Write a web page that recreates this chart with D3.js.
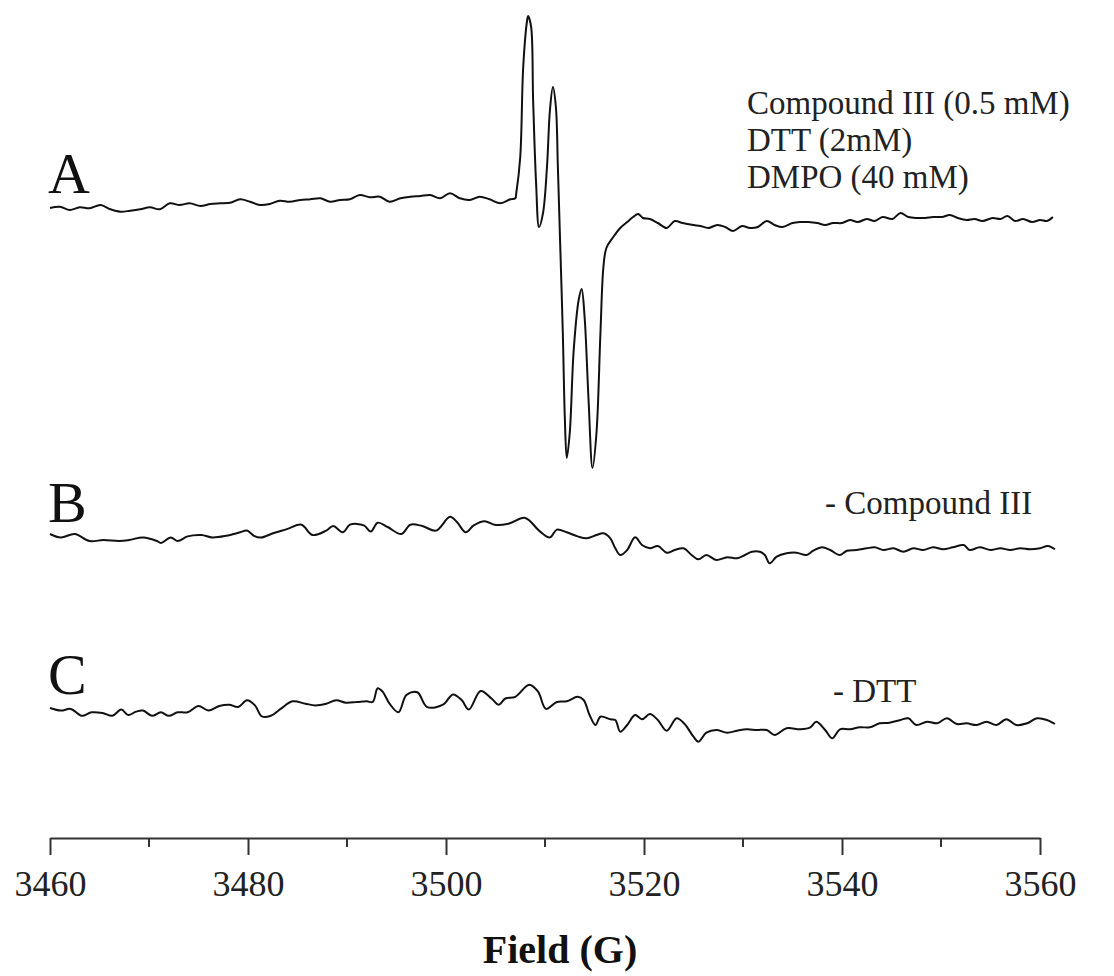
<!DOCTYPE html>
<html lang="en">
<head>
  <meta charset="UTF-8">
  <title>EPR spectra</title>
  <script src="https://d3js.org/d3.v7.min.js"></script>
  <style>
    body { margin: 0; background: #fff; }
    svg { display: block; font-family: "Liberation Serif", "DejaVu Serif", serif; }
  </style>
</head>
<body>
<svg id="chart" width="1114" height="976"></svg>

<script>
  // ---- data (field in G, intensity in arbitrary units) ----
  var fieldA = [3460.0, 3461.0, 3462.0, 3463.0, 3464.0, 3465.1, 3466.1, 3467.1, 3468.1, 3469.1,
    3470.1, 3471.1, 3472.1, 3473.1, 3474.1, 3475.2, 3476.2, 3477.2, 3478.2, 3479.2,
    3480.2, 3481.2, 3482.2, 3483.2, 3484.2, 3485.3, 3486.3, 3487.3, 3488.3, 3489.3,
    3490.3, 3491.3, 3492.3, 3493.3, 3494.3, 3495.4, 3496.4, 3497.4, 3498.4, 3499.4,
    3500.4, 3501.4, 3502.4, 3503.4, 3504.4, 3505.5, 3506.5, 3507.0, 3507.1, 3507.5,
    3507.8, 3508.2, 3508.3, 3508.6, 3508.8, 3509.1, 3509.4, 3509.8, 3510.2, 3510.5,
    3510.8, 3511.1, 3511.3, 3511.5, 3511.8, 3512.0, 3512.2, 3512.5, 3512.9, 3513.4,
    3513.7, 3514.0, 3514.4, 3514.8, 3515.2, 3515.6, 3515.9, 3516.2, 3516.9, 3517.6,
    3518.3, 3518.9, 3519.4, 3519.9, 3520.6, 3521.4, 3522.3, 3523.1, 3523.9, 3525.0,
    3525.7, 3526.5, 3527.4, 3528.2, 3529.0, 3529.9, 3530.7, 3531.5, 3532.4, 3533.2,
    3534.0, 3535.0, 3535.8, 3536.6, 3537.5, 3538.3, 3539.1, 3540.0, 3540.8, 3541.6,
    3542.5, 3543.3, 3544.1, 3545.1, 3545.9, 3546.7, 3547.6, 3548.4, 3549.2, 3550.1,
    3550.9, 3551.7, 3552.6, 3553.4, 3554.2, 3555.2, 3556.0, 3556.7, 3557.5, 3558.3,
    3559.2, 3560.0, 3560.7, 3561.3];
  var intensityA = [0, 1.3, -2, 0.7, -0.3, 3, -1.3, -3.7, -2.7, -1.3,
    0.7, -1.3, 4.7, 3, 4.7, 2, 4, 4.7, 5.3, 8.7,
    6.3, 3, 4, 7.3, 6.3, 8, 8.7, 9.7, 6.3, 8,
    8.7, 13, 10.7, 11.3, 6.3, 9.7, 11.3, 12, 13, 9.7,
    14.7, 9.7, 8, 11.3, 8.7, 4.7, 8.7, 9.7, 15, 51,
    141, 188, 192, 181, 108, 25, -19, -5, 41, 98,
    121, 101, 41, -25, -125, -209, -250, -225, -142, -92,
    -81, -109, -192, -260, -225, -125, -59, -40, -29, -20,
    -14, -9, -6, -10, -11, -15, -20, -13, -15, -17,
    -18, -20, -17, -19, -23, -18, -20, -19, -13, -17,
    -19, -15, -14, -14, -15, -17, -15, -15, -12, -14,
    -11, -13, -9, -11, -5, -9, -10, -10, -9, -9,
    -7, -10, -12, -11, -13, -10, -11, -8, -13, -11,
    -14, -12, -13, -9];

  var fieldB = [3460.0, 3461.1, 3462.5, 3464.0, 3465.4, 3467.0, 3468.0, 3469.4, 3470.8, 3471.2,
    3472.2, 3472.9, 3473.9, 3475.3, 3476.4, 3477.8, 3479.2, 3479.9, 3480.6, 3481.3,
    3482.6, 3484.0, 3485.4, 3486.5, 3487.9, 3488.6, 3489.6, 3490.3, 3491.7, 3492.4,
    3493.1, 3494.1, 3495.5, 3496.4, 3497.6, 3499.0, 3500.4, 3501.1, 3502.0, 3502.8,
    3503.9, 3504.9, 3506.3, 3508.0, 3509.4, 3510.5, 3511.2, 3512.2, 3513.3, 3514.2,
    3515.2, 3515.9, 3516.6, 3517.1, 3517.6, 3518.3, 3519.1, 3519.8, 3520.6, 3521.4,
    3522.3, 3523.1, 3524.0, 3524.8, 3525.5, 3526.3, 3527.3, 3528.4, 3529.4, 3530.2,
    3530.9, 3531.7, 3532.2, 3532.7, 3533.4, 3534.4, 3535.4, 3536.4, 3537.1, 3538.0,
    3538.8, 3539.8, 3540.5, 3541.5, 3542.5, 3543.3, 3544.2, 3545.2, 3546.2, 3547.2,
    3548.2, 3549.2, 3550.2, 3551.2, 3552.3, 3552.9, 3553.9, 3555.0, 3556.0, 3557.0,
    3558.0, 3559.0, 3560.0, 3560.8, 3561.5];
  var intensityB = [0, -3.5, 0, -7, -6, -7, -6, -3.5, -7, -9,
    -3.5, -7, -2.4, -1, -3.5, -1.8, 1.7, 3.4, -1.8, -3.5,
    1, 5.1, 9.3, -1, 3.4, 8, 1.7, 9.3, 8.6, 2.4,
    11.3, 7, 0, 9.3, 8, 3.4, 17.2, 12, 1.7, 8.6,
    12.7, 9.3, 10.3, 16.1, 3.4, -3.5, 4.4, 1.7, -2.4, -4.3,
    -1, 0.7, -4.3, -14.3, -21, -16, -3.3, -11, -14.3, -12,
    -18.7, -16, -14.3, -21, -25.3, -21, -26, -23.3, -24.3, -21,
    -17.7, -17.7, -21, -29.3, -22.7, -19.3, -18.7, -21, -16.7, -13.3,
    -16, -21, -16.7, -16, -14.3, -13.3, -16, -14.3, -17.7, -14.3,
    -16, -13.3, -15.3, -13.3, -11, -16, -13.3, -16, -14.3, -16,
    -14.3, -15.3, -14.3, -12, -15.3];

  var fieldC = [3460.0, 3461.1, 3462.1, 3463.2, 3464.2, 3465.3, 3466.3, 3467.2, 3467.9, 3468.7,
    3469.4, 3470.3, 3471.2, 3472.0, 3472.9, 3473.9, 3475.0, 3476.0, 3477.1, 3478.1,
    3479.0, 3479.9, 3480.7, 3481.4, 3482.3, 3483.3, 3484.5, 3485.8, 3486.8, 3487.9,
    3488.9, 3489.9, 3491.0, 3492.0, 3492.6, 3493.1, 3493.6, 3494.3, 3495.2, 3496.0,
    3497.1, 3498.1, 3499.7, 3500.7, 3501.6, 3502.3, 3503.5, 3504.6, 3505.3, 3506.0,
    3507.0, 3508.4, 3509.3, 3510.1, 3511.2, 3512.2, 3513.3, 3513.9, 3514.5, 3515.1,
    3515.6, 3516.6, 3517.1, 3517.6, 3518.3, 3519.1, 3519.8, 3520.6, 3521.4, 3522.3,
    3523.3, 3524.1, 3525.0, 3525.5, 3526.3, 3527.3, 3528.4, 3529.4, 3530.4, 3531.4,
    3532.4, 3533.2, 3534.4, 3535.8, 3536.8, 3537.4, 3538.3, 3539.0, 3539.8, 3540.8,
    3541.8, 3542.8, 3543.8, 3544.8, 3545.9, 3546.7, 3547.5, 3548.6, 3549.6, 3550.6,
    3551.6, 3552.6, 3553.6, 3554.6, 3555.6, 3556.6, 3557.6, 3558.7, 3559.7, 3560.7,
    3561.5];
  var intensityC = [0, -2.6, -0.9, -7.8, -4.3, -5, -7.8, -1.6, -7, -3.6,
    -2.6, -7.8, -4.3, -7.8, -4.3, -4.3, 2, -2.6, 2, 3.3,
    1, 7.7, 2.6, -8.4, -7.8, -0.9, 6.7, 4.3, 2.6, 4.3,
    7.7, 5.3, 6, 6.7, 6, 19.8, 16.3, 4.3, -4.3, 12.9,
    15.7, 0.9, 3.3, 13.6, 7.7, -1.6, 17, 9.5, 3.3, 9.5,
    11.2, 23.2, 16.3, -0.9, 6, 6.7, 11.2, 8, -7, -17,
    -8.7, -11.3, -12, -23.7, -17, -7, -11.3, -6, -12, -22.7,
    -10.3, -16, -28.7, -33.7, -24.7, -22, -24.7, -22.7, -21.3, -22,
    -22, -27, -20.3, -21.3, -19.3, -13.7, -22, -30.3, -21.3, -21.3,
    -19.3, -19.3, -15.3, -14.7, -12, -10.3, -17, -13.7, -15.3, -10.3,
    -16, -15.3, -17, -13.7, -17, -11.3, -17, -15.3, -10.3, -12,
    -16];

  var traceNames = ["A", "B", "C"];
  var traceNotes = [["Compound III (0.5 mM)", "DTT (2mM)", "DMPO (40 mM)"], ["- Compound III"], ["- DTT"]];
  var xTicks = [3460, 3480, 3500, 3520, 3540, 3560];
  var xMinorTicks = [3470, 3490, 3510, 3530, 3550];
  var xTitle = "Field (G)";

  // ---- layout ----
  var svg = d3.select("#chart");
  var axisY = 838;
  var baselines = [208, 534, 708];          // where each trace's zero sits
  var labelY = [193, 522, 694];
  var notePos = [{ x: 747, y: 114, dy: 37 }, { x: 825, y: 514, dy: 0 }, { x: 833, y: 702, dy: 0 }];

  var x = d3.scaleLinear().domain([3460, 3560]).range([50, 1040]);
  var y = d3.scaleLinear().domain([-300, 300]).range([300, -300]);   // 1 a.u. per px, offset by group

  var traces = [
    d3.zip(fieldA, intensityA),
    d3.zip(fieldB, intensityB),
    d3.zip(fieldC, intensityC)
  ];

  var line = d3.line()
    .x(function (d) { return x(d[0]); })
    .y(function (d) { return y(d[1]); })
    .curve(d3.curveCatmullRom.alpha(0.5));

  var groups = svg.selectAll("g.trace")
    .data(traces)
    .enter()
    .append("g")
    .attr("class", "trace")
    .attr("transform", function (d, i) { return "translate(0," + baselines[i] + ")"; });

  groups.append("path")
    .attr("d", line)
    .attr("fill", "none")
    .attr("stroke", "#111")
    .attr("stroke-width", 2)
    .attr("stroke-linejoin", "round");

  // big letters A, B, C
  svg.selectAll("text.name")
    .data(traceNames)
    .enter()
    .append("text")
    .attr("class", "name")
    .attr("x", 48)
    .attr("y", function (d, i) { return labelY[i]; })
    .attr("font-size", "58px")
    .attr("fill", "#111")
    .text(function (d) { return d; });

  // condition notes
  traceNotes.forEach(function (lines, i) {
    svg.append("text")
      .attr("x", notePos[i].x)
      .attr("y", notePos[i].y)
      .attr("font-size", "33px")
      .attr("fill", "#222")
      .selectAll("tspan")
      .data(lines)
      .enter()
      .append("tspan")
      .attr("x", notePos[i].x)
      .attr("dy", function (d, j) { return j === 0 ? 0 : notePos[i].dy; })
      .text(function (d) { return d; });
  });

  // x axis
  var axis = svg.append("g")
    .attr("transform", "translate(0," + axisY + ")")
    .call(d3.axisBottom(x).tickValues(xTicks).tickSize(17).tickSizeOuter(0).tickFormat(d3.format("d")));
  axis.select(".domain").attr("stroke", "#333").attr("stroke-width", 2);
  axis.selectAll(".tick line").attr("stroke", "#333").attr("stroke-width", 2);
  axis.selectAll(".tick text")
    .attr("font-family", "Liberation Serif, serif")
    .attr("font-size", "36px")
    .attr("fill", "#222")
    .attr("dy", "0")
    .attr("y", 58);

  axis.selectAll("line.minor")
    .data(xMinorTicks)
    .enter()
    .append("line")
    .attr("class", "minor")
    .attr("x1", function (d) { return x(d); })
    .attr("x2", function (d) { return x(d); })
    .attr("y1", 0)
    .attr("y2", 9)
    .attr("stroke", "#333")
    .attr("stroke-width", 2);

  svg.append("text")
    .attr("x", 560)
    .attr("y", 963)
    .attr("text-anchor", "middle")
    .attr("font-size", "40px")
    .attr("font-weight", "bold")
    .attr("fill", "#111")
    .text(xTitle);
</script>
</body>
</html>
